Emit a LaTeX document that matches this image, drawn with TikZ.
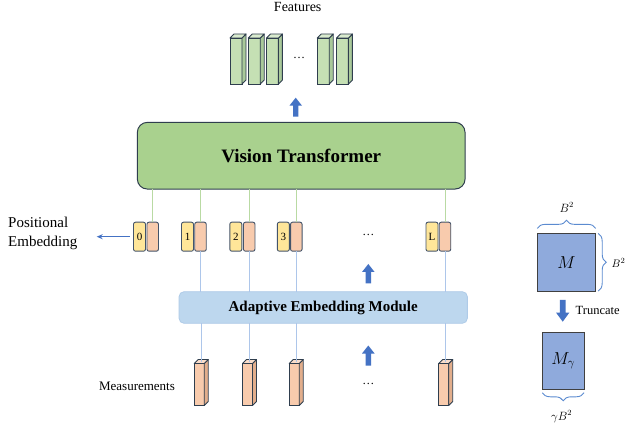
\documentclass[tikz,border=0pt]{standalone}
\usepackage{fontspec}
\setmainfont{Liberation Serif}
\usetikzlibrary{decorations.pathreplacing,calc,arrows.meta}
\definecolor{vtgreen}{HTML}{A9D18E}
\definecolor{featgreen}{HTML}{C5E0B4}
\definecolor{featside}{HTML}{A9C99A}
\definecolor{darkedge}{HTML}{2F3E4E}
\definecolor{aemblue}{HTML}{BDD7EE}
\definecolor{aemedge}{HTML}{AFCBE8}
\definecolor{tokyellow}{HTML}{FFE699}
\definecolor{tokpink}{HTML}{F8CBAD}
\definecolor{measside}{HTML}{E2AE8C}
\definecolor{tokedge}{HTML}{44546A}
\definecolor{blockblue}{HTML}{4472C4}
\definecolor{greenline}{HTML}{B9DAA3}
\definecolor{blueline}{HTML}{ADC6EA}
\definecolor{matblue}{HTML}{8FAADC}
\definecolor{bracecol}{HTML}{5B8BD0}

\newcommand{\cub}[7]{%
  \node[cubefront, fill=#6, minimum width=#4, minimum height=#5] (#1) at (#2,#3) {};
  \draw[cubeedge, fill=#7] (#1.north east) -- ++(4,-4) -- ++(0,#5) -- (#1.south east) -- cycle;
  \draw[cubeedge, fill=#6!65!white] (#1.north west) -- ++(4,-4) -- ++(#4,0) -- (#1.north east) -- cycle;
  \coordinate (#1-top) at ($(#1.north)+(2,-2)$);
}
\newcommand{\blkup}[3]{%
  \fill[blockblue] (#1-2.7,#3) -- (#1-2.7,#2+8) -- (#1-6.3,#2+8) -- (#1,#2) -- (#1+6.3,#2+8) -- (#1+2.7,#2+8) -- (#1+2.7,#3) -- cycle;
}
\newcommand{\blkdown}[3]{%
  \fill[blockblue] (#1-2.8,#2) -- (#1-2.8,#3-9) -- (#1-6.6,#3-9) -- (#1,#3) -- (#1+6.6,#3-9) -- (#1+2.8,#3-9) -- (#1+2.8,#2) -- cycle;
}

\begin{document}
\begin{tikzpicture}[x=1pt,y=-1pt,
  cubefront/.style={draw=darkedge, line width=0.9pt, inner sep=0pt, outer sep=0pt},
  cubeedge/.style={draw=darkedge, line width=0.9pt, line join=round},
  tokY/.style={draw=tokedge, fill=tokyellow, line width=0.9pt, rounded corners=2pt, minimum width=12, minimum height=29, inner sep=0pt, outer sep=0pt, font=\fontsize{11}{11}\selectfont},
  tokP/.style={draw=tokedge, fill=tokpink, line width=0.9pt, rounded corners=2pt, minimum width=11.5, minimum height=29, inner sep=0pt, outer sep=0pt},
  vtline/.style={draw=greenline, line width=1pt},
  bline/.style={draw=blueline, line width=1pt},
  mat/.style={draw=black!75, fill=matblue, line width=0.9pt, inner sep=0pt, outer sep=0pt, font=\fontsize{18}{18}\selectfont},
  brace/.style={draw=bracecol, line width=0.9pt, decorate, decoration={brace, amplitude=8pt}},
  lbl/.style={inner sep=0pt, font=\fontsize{12}{12}\selectfont},
  txt/.style={inner sep=0pt}]
\useasboundingbox (0,0) rectangle (626,427);
\clip (0,0) rectangle (626,427);
\fill[white] (0,0) rectangle (626,427);

% Features
\node[txt, font=\fontsize{14}{14}\selectfont] (feat) at (297.7,7) {Features};
\cub{f1}{236}{61}{12}{46}{featgreen}{featside}
\cub{f2}{254.2}{61}{12}{46}{featgreen}{featside}
\cub{f3}{272.4}{61}{12}{46}{featgreen}{featside}
\node[txt, font=\fontsize{12}{12}\selectfont] (fdots) at (299,58) {\dots};
\cub{f4}{323.2}{61}{12}{46}{featgreen}{featside}
\cub{f5}{342.4}{61}{12}{46}{featgreen}{featside}
\blkup{295.7}{97.7}{116.7}

% Vision Transformer
\node[draw=darkedge, fill=vtgreen, line width=1pt, rounded corners=10pt, minimum width=327.7, minimum height=66.7, inner sep=0pt, outer sep=0pt, font=\fontsize{19}{19}\selectfont\bfseries] (vt) at (301.2,155.7) {Vision Transformer};

% tokens
\node[tokY] (y0) at (139.5,236.7) {0};
\node[tokP] (p0) at (152.7,236.7) {};
\node[tokY] (y1) at (187.5,236.7) {1};
\node[tokP] (p1) at (200.5,236.7) {};
\node[tokY] (y2) at (235.8,236.7) {2};
\node[tokP] (p2) at (249.2,236.7) {};
\node[tokY] (y3) at (283.3,236.7) {3};
\node[tokP] (p3) at (296.3,236.7) {};
\node[txt, font=\fontsize{12}{12}\selectfont] (tdots) at (368.3,235) {\dots};
\node[tokY] (yL) at (432,236.7) {L};
\node[tokP] (pL) at (445,236.7) {};

\foreach \p in {p0,p1,p2,p3,pL} {
  \draw[vtline] (\p.north) -- (\p.north |- vt.south);
}

% positional embedding
\node[txt, anchor=west, align=left, font=\fontsize{15}{19.5}\selectfont] (pe) at (8,233.5) {Positional\\Embedding};
\coordinate (petip) at (96.7,236.7);
\draw[draw=blockblue, line width=1.1pt, -{Stealth[length=6pt,width=5pt]}, shorten <=4pt] (y0.west) -- (petip);

% AEM
\node[draw=aemedge, fill=aemblue, line width=0.8pt, rounded corners=5pt, minimum width=288.3, minimum height=31.6, inner sep=0pt, outer sep=0pt, font=\fontsize{15}{15}\selectfont\bfseries] (aem) at (323.2,307.5) {Adaptive Embedding Module};

\foreach \p in {p1,p2,p3,pL} {
  \draw[bline] (\p.south) -- (\p.south |- aem.north);
}
\blkup{368.3}{264}{283.3}
\blkup{368.3}{345.5}{365.5}

% measurements
\cub{m1}{199.2}{384.5}{10}{42}{tokpink}{measside}
\cub{m2}{247.5}{384.5}{10}{42}{tokpink}{measside}
\cub{m3}{294.2}{384.5}{10}{42}{tokpink}{measside}
\cub{m4}{443.7}{384.5}{10}{42}{tokpink}{measside}
\node[txt, font=\fontsize{12}{12}\selectfont] (mdots) at (368.3,383.5) {\dots};
\foreach \m in {m1,m2,m3,m4} {
  \draw[bline] (\m-top) -- (\m-top |- aem.south);
}
\node[txt, font=\fontsize{13}{13}\selectfont] (meas) at (137,386) {Measurements};

% right side matrices
\node[mat, minimum width=58.4, minimum height=57.7] (M) at (566.5,262.2) {$M$};
\node[mat, minimum width=41.7, minimum height=57] (Mg) at (563.2,360.8) {$M_\gamma$};
\draw[brace] ([yshift=5pt]M.north west) -- ([yshift=5pt]M.north east);
\draw[brace] ([xshift=2.5pt]M.north east) -- ([xshift=2.5pt]M.south east);
\draw[brace] ([yshift=-3.5pt]Mg.south east) -- ([yshift=-3.5pt]Mg.south west);
\node[lbl] (bt) at (566.7,207.5) {$B^2$};
\node[lbl, anchor=east, font=\fontsize{11}{11}\selectfont] (br) at (625.5,263) {$B^2$};
\node[lbl] (bb) at (561.7,416.5) {$\gamma B^2$};
\blkdown{562.7}{300}{321.7}
\node[txt, anchor=west, font=\fontsize{12.5}{12.5}\selectfont] (trunc) at (575.5,310) {Truncate};
\end{tikzpicture}
\end{document}
